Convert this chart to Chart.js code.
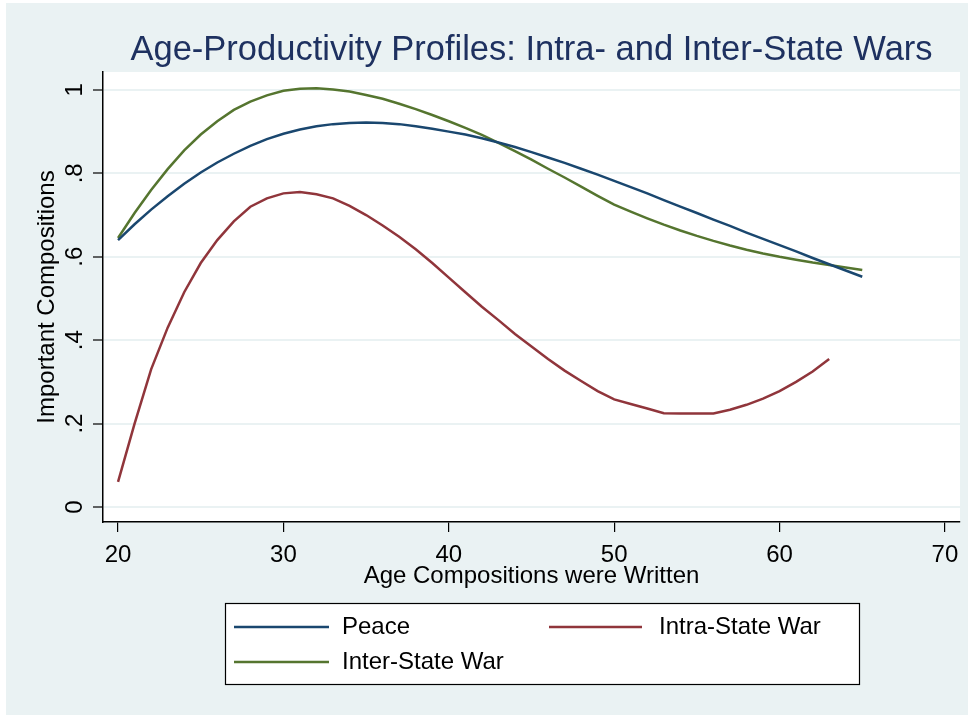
<!DOCTYPE html>
<html>
<head>
<meta charset="utf-8">
<script src="https://cdn.jsdelivr.net/npm/chart.js@4/dist/chart.umd.min.js"></script>
<style>
  html, body { margin: 0; padding: 0; background: #ffffff; }
  canvas { display: block; }
</style>
</head>
<body>
<canvas id="ageChart" width="973" height="715"></canvas>
<script>
// ages (x) for each series
const agesLong = [20, 21, 22, 23, 24, 25, 26, 27, 28, 29, 30, 31, 32, 33, 34, 35, 36, 37, 38, 39, 40, 41, 42,
    43, 44, 45, 46, 47, 48, 49, 50, 51, 52, 53, 54, 55, 56, 57, 58, 59, 60, 61, 62, 63, 64, 65];
const agesIntra = [20, 21, 22, 23, 24, 25, 26, 27, 28, 29, 30, 31, 32, 33, 34, 35, 36, 37, 38, 39, 40, 41, 42,
    43, 44, 45, 46, 47, 48, 49, 50, 51, 52, 53, 54, 55, 56, 57, 58, 59, 60, 61, 62, 63];

const peace = [0.640, 0.678, 0.713, 0.745, 0.775, 0.802, 0.826, 0.847, 0.866, 0.882, 0.895, 0.905, 0.913,
    0.918, 0.921, 0.922, 0.921, 0.918, 0.913, 0.907, 0.900, 0.893, 0.884, 0.874, 0.863, 0.851, 0.838, 0.825,
    0.811, 0.797, 0.782, 0.767, 0.752, 0.736, 0.720, 0.705, 0.689, 0.674, 0.658, 0.643, 0.628, 0.613, 0.597,
    0.582, 0.567, 0.552];
const interState = [0.645, 0.705, 0.760, 0.810, 0.855, 0.893, 0.925, 0.952, 0.972, 0.987, 0.998, 1.003, 1.004,
    1.001, 0.996, 0.988, 0.979, 0.967, 0.954, 0.940, 0.925, 0.909, 0.892, 0.873, 0.853, 0.833, 0.811, 0.790,
    0.768, 0.746, 0.725, 0.708, 0.692, 0.677, 0.663, 0.650, 0.638, 0.627, 0.617, 0.608, 0.600, 0.593, 0.586,
    0.580, 0.574, 0.568];
const intraState = [0.060, 0.200, 0.330, 0.430, 0.515, 0.585, 0.640, 0.685, 0.720, 0.740, 0.752, 0.755, 0.750,
    0.740, 0.722, 0.700, 0.675, 0.648, 0.618, 0.585, 0.550, 0.515, 0.480, 0.448, 0.415, 0.385, 0.355, 0.327,
    0.302, 0.278, 0.258, 0.247, 0.236, 0.225, 0.224, 0.224, 0.224, 0.233, 0.245, 0.260, 0.278, 0.300, 0.325,
    0.355];

// tick values and labels
const xTicks = [20, 30, 40, 50, 60, 70];
const yTicks = [0, 0.2, 0.4, 0.6, 0.8, 1];
const yTickLabels = ['0', '.2', '.4', '.6', '.8', '1'];

const FONT = "'Liberation Sans', Arial, sans-serif";
Chart.defaults.font.family = FONT;

function toPoints(xs, ys) {
    return xs.map((x, i) => ({ x: x, y: ys[i] }));
}

// Hintergrund: hellblau aussen, weisse Plotflaeche
const backgroundPlugin = {
    id: 'stataBackground',
    beforeDraw(chart) {
        const ctx = chart.ctx;
        const a = chart.chartArea;
        ctx.save();
        ctx.fillStyle = '#ffffff';
        ctx.fillRect(0, 0, chart.width, chart.height);
        ctx.fillStyle = '#eaf2f3';
        ctx.fillRect(6, 3, chart.width - 11, chart.height - 3);
        ctx.fillStyle = '#ffffff';
        ctx.fillRect(a.left, a.top, a.right - a.left, a.bottom - a.top);
        ctx.restore();
    }
};

// senkrechte Y-Achsen-Beschriftung
const yLabelPlugin = {
    id: 'rotatedYLabels',
    afterDraw(chart) {
        const scale = chart.scales.y;
        const ctx = chart.ctx;
        ctx.save();
        ctx.fillStyle = '#000000';
        ctx.font = '24px ' + FONT;
        ctx.textAlign = 'center';
        ctx.textBaseline = 'alphabetic';
        yTicks.forEach((v, i) => {
            const py = scale.getPixelForValue(v);
            ctx.save();
            ctx.translate(82, py);
            ctx.rotate(-Math.PI / 2);
            ctx.fillText(yTickLabels[i], 0, 0);
            ctx.restore();
        });
        ctx.restore();
    }
};

// Legende im Kasten unten
const legendPlugin = {
    id: 'boxLegend',
    afterDraw(chart) {
        const ctx = chart.ctx;
        const ds = chart.data.datasets;
        const slots = [
            { x1: 234, x2: 329, tx: 342, y: 627 },
            { x1: 549, x2: 642, tx: 659, y: 627 },
            { x1: 234, x2: 329, tx: 342, y: 662 }
        ];
        ctx.save();
        ctx.fillStyle = '#ffffff';
        ctx.fillRect(225, 603, 634, 81);
        ctx.strokeStyle = '#000000';
        ctx.lineWidth = 1.2;
        ctx.strokeRect(225.5, 603.5, 634, 81);
        ctx.font = '24px ' + FONT;
        ctx.textBaseline = 'middle';
        ctx.textAlign = 'left';
        ds.forEach((d, i) => {
            const s = slots[i];
            ctx.strokeStyle = d.borderColor;
            ctx.lineWidth = 2.5;
            ctx.beginPath();
            ctx.moveTo(s.x1, s.y);
            ctx.lineTo(s.x2, s.y);
            ctx.stroke();
            ctx.fillStyle = '#000000';
            ctx.fillText(d.label, s.tx, s.y);
        });
        ctx.restore();
    }
};

const ctx = document.getElementById('ageChart').getContext('2d');

const myChart = new Chart(ctx, {
    type: 'line',
    data: {
        datasets: [{
            label: 'Peace',
            data: toPoints(agesLong, peace),
            borderColor: '#1a476f',
            borderWidth: 2.5
        }, {
            label: 'Intra-State War',
            data: toPoints(agesIntra, intraState),
            borderColor: '#90353b',
            borderWidth: 2.5
        }, {
            label: 'Inter-State War',
            data: toPoints(agesLong, interState),
            borderColor: '#55752f',
            borderWidth: 2.5
        }]
    },
    options: {
        responsive: false,
        animation: false,
        devicePixelRatio: 1,
        elements: {
            point: { radius: 0 },
            line: { tension: 0, fill: false }
        },
        layout: {
            padding: { left: 0, right: 13, top: 0, bottom: 123 }
        },
        scales: {
            x: {
                type: 'linear',
                min: 19.09,
                max: 70.91,
                afterBuildTicks: (scale) => {
                    scale.ticks = xTicks.map(v => ({ value: v }));
                },
                afterFit: (scale) => { scale.height = 70; },
                ticks: {
                    color: '#000000',
                    font: { size: 24 },
                    padding: 9.4,
                    maxRotation: 0,
                    callback: (v) => String(v)
                },
                grid: {
                    drawOnChartArea: false,
                    drawTicks: true,
                    tickLength: 10,
                    tickColor: '#000000',
                    lineWidth: 1.2
                },
                border: { display: true, color: '#000000', width: 1.5 },
                title: {
                    display: true,
                    text: 'Age Compositions were Written',
                    color: '#000000',
                    font: { size: 24 },
                    padding: { top: 0, bottom: 1 }
                }
            },
            y: {
                type: 'linear',
                min: -0.036,
                max: 1.043,
                afterBuildTicks: (scale) => {
                    scale.ticks = yTicks.map(v => ({ value: v }));
                },
                afterFit: (scale) => { scale.width = 103; },
                ticks: {
                    display: false
                },
                grid: {
                    color: '#eaf2f3',
                    lineWidth: 2,
                    drawTicks: true,
                    tickLength: 10,
                    tickColor: '#000000',
                    tickWidth: 1.2
                },
                border: { display: true, color: '#000000', width: 1.5 },
                title: {
                    display: true,
                    text: 'Important Compositions',
                    color: '#000000',
                    font: { size: 24 },
                    padding: { top: 33.2, bottom: 0 }
                }
            }
        },
        plugins: {
            legend: { display: false },
            tooltip: { enabled: false },
            title: {
                display: true,
                fullSize: false,
                text: 'Age-Productivity Profiles: Intra- and Inter-State Wars',
                color: '#1e3160',
                font: { size: 34.5, weight: 'normal' },
                padding: { top: 29.4, bottom: 1.2 }
            }
        }
    },
    plugins: [backgroundPlugin, yLabelPlugin, legendPlugin]
});
</script>
</body>
</html>
